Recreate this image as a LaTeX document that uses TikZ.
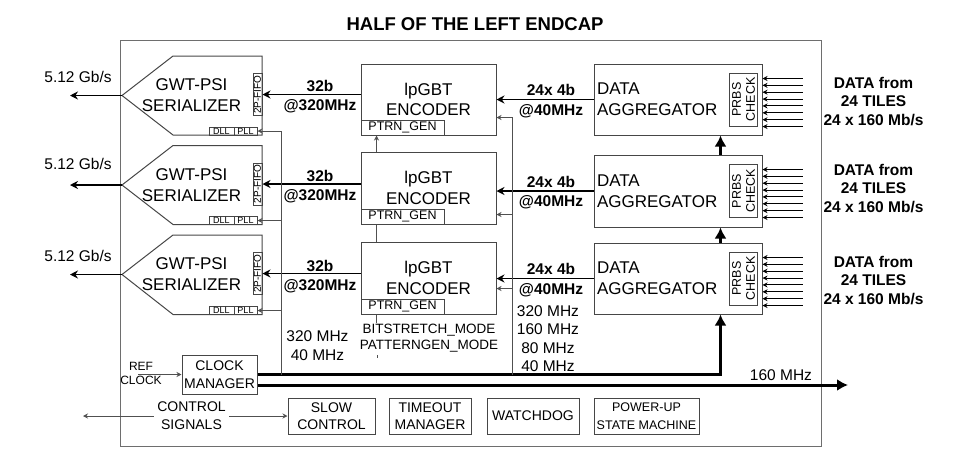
\documentclass[tikz,border=0pt]{standalone}
\usepackage{fontspec}
\setmainfont{Liberation Sans}
\usetikzlibrary{arrows.meta}

\definecolor{boxgray}{RGB}{70,70,70}
\definecolor{siggray}{RGB}{80,80,80}
\definecolor{framegray}{RGB}{110,110,110}

\newcommand\fs[2]{\fontsize{#1}{#2}\selectfont}

\tikzset{
  blk/.style={draw=boxgray, line width=1pt, inner sep=0pt, align=center},
  lbl/.style={inner sep=0pt, align=center},
  boldlbl/.style={lbl, font=\bfseries\fs{15.5}{19.5}},
  bus/.style={line width=1.8pt, -{Stealth[length=8pt,width=8pt]}},
  sig/.style={draw=siggray, line width=1pt, -{Stealth[length=5pt,width=5pt]}},
  wire/.style={draw=siggray, line width=1pt},
  fat/.style={line width=3pt, -{Latex[length=11pt,width=12pt]}},
}

\begin{document}
\begin{tikzpicture}[x=1pt, y=-1pt]
  \useasboundingbox (0,0) rectangle (966,472);

  % Frame and title
  \draw[framegray, line width=1pt] (120,40) rectangle (821,446);
  \node[lbl, font=\bfseries\fs{18.5}{22}] (title) at (475,24) {HALF OF THE LEFT ENDCAP};

  % Serializers
  \draw[blk] (122,95.5) coordinate (ser1) -- (173,56) -- (262,56) -- (262,135) -- (173,135) -- cycle;
  \draw[blk] (122,185) coordinate (ser2) -- (173,145.5) -- (262,145.5) -- (262,224.5) -- (173,224.5) -- cycle;
  \draw[blk] (122,274.5) coordinate (ser3) -- (173,235) -- (262,235) -- (262,314.5) -- (173,314.5) -- cycle;
  \node[lbl, font=\fs{17}{21}] (sertxt1) at (191.5,95.5) {GWT-PSI\\SERIALIZER};
  \node[lbl, font=\fs{17}{21}] (sertxt2) at (191.5,185) {GWT-PSI\\SERIALIZER};
  \node[lbl, font=\fs{17}{21}] (sertxt3) at (191.5,274.5) {GWT-PSI\\SERIALIZER};
  \node[blk, rotate=90, minimum width=42pt, minimum height=9pt, font=\fs{10}{10}] (fifo1) at (257.5,94.5) {2P-FIFO};
  \node[blk, rotate=90, minimum width=42pt, minimum height=9pt, font=\fs{10}{10}] (fifo2) at (257.5,184) {2P-FIFO};
  \node[blk, rotate=90, minimum width=42pt, minimum height=9pt, font=\fs{10}{10}] (fifo3) at (257.5,273.5) {2P-FIFO};
  \node[blk, minimum width=25pt, minimum height=8pt, font=\fs{9}{9}] (dll1) at (221.5,131) {DLL};
  \node[blk, minimum width=23pt, minimum height=8pt, font=\fs{9}{9}] (pll1) at (245.5,131) {PLL};
  \node[blk, minimum width=25pt, minimum height=8pt, font=\fs{9}{9}] (dll2) at (221.5,220.5) {DLL};
  \node[blk, minimum width=23pt, minimum height=8pt, font=\fs{9}{9}] (pll2) at (245.5,220.5) {PLL};
  \node[blk, minimum width=25pt, minimum height=8pt, font=\fs{9}{9}] (dll3) at (221.5,310.5) {DLL};
  \node[blk, minimum width=23pt, minimum height=8pt, font=\fs{9}{9}] (pll3) at (245.5,310.5) {PLL};

  % Serial outputs
  \coordinate (out1) at (70,95.5);
  \coordinate (out2) at (70,185);
  \coordinate (out3) at (70,274.5);
  \draw[bus] (ser1) -- (out1);
  \draw[bus] (ser2) -- (out2);
  \draw[bus] (ser3) -- (out3);
  \node[lbl, font=\fs{15.5}{18}] (rate1) at (78,77) {5.12 Gb/s};
  \node[lbl, font=\fs{15.5}{18}] (rate2) at (78,164) {5.12 Gb/s};
  \node[lbl, font=\fs{15.5}{18}] (rate3) at (78,256) {5.12 Gb/s};

  % Encoders
  \node[blk, minimum width=135pt, minimum height=71pt, font=\fs{17}{20.7}] (enc1) at (428.5,99.5) {lpGBT\\ENCODER};
  \node[blk, minimum width=135pt, minimum height=72pt, font=\fs{17}{20.7}] (enc2) at (428.5,188) {lpGBT\\ENCODER};
  \node[blk, minimum width=135pt, minimum height=72pt, font=\fs{17}{20.7}] (enc3) at (428.5,278) {lpGBT\\ENCODER};
  \node[blk, anchor=south west, minimum width=83pt, minimum height=15pt, font=\fs{12.5}{14}] (pg1) at (enc1.south west) {PTRN\_GEN};
  \node[blk, anchor=south west, minimum width=83pt, minimum height=15pt, font=\fs{12.5}{14}] (pg2) at (enc2.south west) {PTRN\_GEN};
  \node[blk, anchor=south west, minimum width=83pt, minimum height=15pt, font=\fs{12.5}{14}] (pg3) at (enc3.south west) {PTRN\_GEN};

  % Encoder to serializer
  \draw[bus] (enc1.west |- fifo1.south) -- (fifo1.south);
  \draw[bus] (enc2.west |- fifo2.south) -- (fifo2.south);
  \draw[bus] (enc3.west |- fifo3.south) -- (fifo3.south);
  \node[boldlbl] (w32a) at (320,96.5) {32b\\@320MHz};
  \node[boldlbl] (w32b) at (320,186.5) {32b\\@320MHz};
  \node[boldlbl] (w32c) at (320,276.5) {32b\\@320MHz};

  % Aggregators
  \node[blk, minimum width=168pt, minimum height=71pt, text width=162pt, inner xsep=3pt, align=left, font=\fs{17}{20.7}] (agg1) at (678,99.5) {DATA\\AGGREGATOR};
  \node[blk, minimum width=168pt, minimum height=72pt, text width=162pt, inner xsep=3pt, align=left, font=\fs{17}{20.7}] (agg2) at (678,191) {DATA\\AGGREGATOR};
  \node[blk, minimum width=168pt, minimum height=71pt, text width=162pt, inner xsep=3pt, align=left, font=\fs{17}{20.7}] (agg3) at (678,278.5) {DATA\\AGGREGATOR};
  \node[blk, rotate=90, minimum width=53pt, minimum height=28pt, font=\fs{12.5}{14}] (prbs1) at ([shift={(-19,0)}]agg1.east) {PRBS\\CHECK};
  \node[blk, rotate=90, minimum width=53pt, minimum height=28pt, font=\fs{12.5}{14}] (prbs2) at ([shift={(-19,0)}]agg2.east) {PRBS\\CHECK};
  \node[blk, rotate=90, minimum width=53pt, minimum height=28pt, font=\fs{12.5}{14}] (prbs3) at ([shift={(-19,0)}]agg3.east) {PRBS\\CHECK};

  % Tile inputs
  \foreach \k in {0,...,7} {
    \draw[sig, draw=black] ([shift={(40,15+6.86*\k)}]agg1.north east) -- ([shift={(0,15+6.86*\k)}]agg1.north east);
    \draw[sig, draw=black] ([shift={(40,15+6.86*\k)}]agg2.north east) -- ([shift={(0,15+6.86*\k)}]agg2.north east);
    \draw[sig, draw=black] ([shift={(40,15+6.86*\k)}]agg3.north east) -- ([shift={(0,15+6.86*\k)}]agg3.north east);
  }
  \node[boldlbl, font=\bfseries\fs{15.5}{18.5}] (tiles1) at (873.5,101.5) {DATA from\\24 TILES\\24 x 160 Mb/s};
  \node[boldlbl, font=\bfseries\fs{15.5}{18.5}] (tiles2) at (873.5,188.5) {DATA from\\24 TILES\\24 x 160 Mb/s};
  \node[boldlbl, font=\bfseries\fs{15.5}{18.5}] (tiles3) at (873.5,280.5) {DATA from\\24 TILES\\24 x 160 Mb/s};

  % Aggregator to encoder
  \draw[bus] (agg1.west) -- (enc1.east |- agg1.west);
  \draw[bus] (agg2.west) -- (enc2.east |- agg2.west);
  \draw[bus] (agg3.west) -- (enc3.east |- agg3.west);
  \node[boldlbl] (w24a) at (551,101) {24x 4b\\@40MHz};
  \node[boldlbl] (w24b) at (551,192.5) {24x 4b\\@40MHz};
  \node[boldlbl] (w24c) at (551,280) {24x 4b\\@40MHz};

  % Clock manager
  \node[blk, minimum width=75pt, minimum height=39pt, font=\fs{14}{17.5}] (clkman) at (219.5,374.5) {CLOCK\\MANAGER};
  \node[lbl, font=\fs{12}{14}] (refclk) at (141,373.5) {REF\\CLOCK};
  \coordinate (refin) at (138,374.5);
  \draw[sig] (refin) -- (clkman.west);

  % Clock buses
  \coordinate (tapS) at (281,374.5);
  \coordinate (tapE) at (512,374.5);
  \coordinate (out160) at (848,385);
  \draw[fat] (clkman.east) -| ([shift={(-42,0)}]agg3.south east);
  \draw[fat] (clkman.east |- out160) -- (out160);
  \node[lbl, font=\fs{15.5}{18}] (f160) at (781,375) {160 MHz};
  \draw[fat] ([shift={(-42,0)}]agg3.north east) -- ([shift={(-42,0)}]agg2.south east);
  \draw[fat] ([shift={(-42,0)}]agg2.north east) -- ([shift={(-42,0)}]agg1.south east);

  % Clock taps
  \draw[sig] (tapS) |- (pll1.east);
  \draw[sig] (tapS) |- (pll2.east);
  \draw[sig] (tapS) |- (pll3.east);
  \draw[sig] (tapE) |- ([shift={(0,-18)}]enc1.south east);
  \draw[sig] (tapE) |- ([shift={(0,-10)}]enc2.south east);
  \draw[sig] (tapE) |- ([shift={(0,-26)}]enc3.south east);
  \node[lbl, font=\fs{15.5}{18.7}] (fq1) at (317.5,346) {320 MHz\\40 MHz};
  \node[lbl, font=\fs{15.5}{18.5}] (fq2) at (548,338.5) {320 MHz\\160 MHz\\80 MHz\\40 MHz};

  % Pattern modes
  \node[lbl, font=\fs{13.5}{16.7}] (modes) at (429,338) {BITSTRETCH\_MODE\\PATTERNGEN\_MODE};
  \draw[wire] ([shift={(16,0)}]pg3.south west) -- ++(0,8);
  \draw[wire] (377,355) -- (377,358);
  \draw[wire] ([shift={(16,0)}]enc2.south west) -- ([shift={(16,0)}]enc3.north west);
  \draw[sig] ([shift={(16,0)}]enc2.north west) -- ([shift={(16,0)}]pg1.south west);

  % Housekeeping blocks
  \node[blk, minimum width=87pt, minimum height=36pt, font=\fs{14}{17.6}] (slowctl) at (331.5,416) {SLOW\\CONTROL};
  \node[blk, minimum width=82pt, minimum height=36pt, font=\fs{14}{17.6}] (timeout) at (430,416) {TIMEOUT\\MANAGER};
  \node[blk, minimum width=92pt, minimum height=36pt, font=\fs{14}{17.6}] (wdog) at (533,416) {WATCHDOG};
  \node[blk, minimum width=105pt, minimum height=36pt, font=\fs{12.5}{17.6}] (pwrup) at (646.5,416) {POWER-UP\\STATE MACHINE};

  % Control signals
  \coordinate (ctlout) at (83,416);
  \draw[wire, {Stealth[length=5pt,width=5pt]}-{Stealth[length=5pt,width=5pt]}] (ctlout) -- (slowctl.west);
  \node[lbl, fill=white, inner xsep=3pt, font=\fs{14}{18.3}] (ctlsig) at (191.5,416) {CONTROL\\SIGNALS};

\end{tikzpicture}
\end{document}
